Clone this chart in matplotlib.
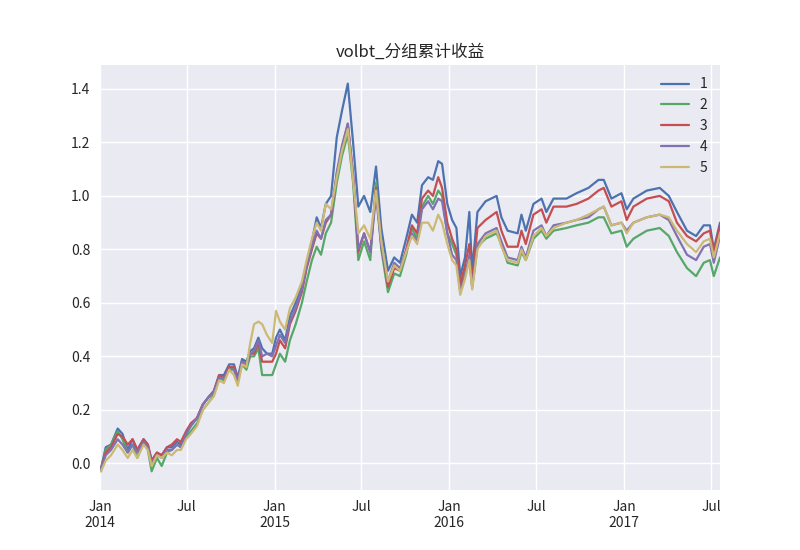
import matplotlib
matplotlib.use("Agg")
import matplotlib.pyplot as plt
import pandas as pd

dates = ["2014-01-03","2014-01-13","2014-01-24","2014-02-07","2014-02-17","2014-02-28","2014-03-10","2014-03-20",
"2014-04-02","2014-04-11","2014-04-19","2014-04-30","2014-05-10","2014-05-21","2014-05-31","2014-06-11","2014-06-19",
"2014-06-30","2014-07-10","2014-07-23","2014-08-04","2014-08-17","2014-08-27","2014-09-07","2014-09-17","2014-09-28",
"2014-10-08","2014-10-16","2014-10-25","2014-11-03","2014-11-11","2014-11-19","2014-11-28","2014-12-06","2014-12-16",
"2014-12-27","2015-01-04","2015-01-12","2015-01-23","2015-02-02","2015-02-14","2015-02-27","2015-03-09","2015-03-20",
"2015-03-30","2015-04-08","2015-04-18","2015-04-29","2015-05-11","2015-05-22","2015-06-03","2015-06-14","2015-06-25",
"2015-07-07","2015-07-20","2015-08-01","2015-08-12","2015-08-26","2015-09-08","2015-09-20","2015-10-03","2015-10-15",
"2015-10-26","2015-11-05","2015-11-18","2015-11-28","2015-12-09","2015-12-17","2015-12-28","2016-01-07","2016-01-16",
"2016-01-24","2016-02-03","2016-02-12","2016-02-18","2016-02-29","2016-03-17","2016-04-09","2016-04-19","2016-05-02",
"2016-05-23","2016-05-31","2016-06-09","2016-06-25","2016-07-12","2016-07-22","2016-08-06","2016-09-02","2016-09-23",
"2016-10-18","2016-11-08","2016-11-19","2016-12-05","2016-12-26","2017-01-06","2017-01-20","2017-02-17","2017-03-16",
"2017-04-04","2017-04-21","2017-05-12","2017-05-31","2017-06-16","2017-06-29","2017-07-07","2017-07-20"]

rows = [
(-0.02,-0.03,-0.02,-0.02,-0.03),(0.06,0.05,0.04,0.03,0.01),(0.07,0.07,0.06,0.05,0.03),(0.13,0.12,0.11,0.09,0.07),
(0.11,0.09,0.10,0.07,0.05),(0.05,0.04,0.07,0.04,0.02),(0.09,0.07,0.09,0.07,0.05),(0.05,0.02,0.05,0.04,0.02),
(0.09,0.08,0.09,0.08,0.07),(0.07,0.05,0.07,0.06,0.05),(0.01,-0.03,0.01,0.00,-0.01),(0.04,0.02,0.04,0.03,0.03),
(0.03,-0.01,0.03,0.02,0.02),(0.06,0.04,0.06,0.05,0.04),(0.06,0.05,0.07,0.05,0.03),(0.08,0.07,0.09,0.07,0.05),
(0.07,0.06,0.08,0.06,0.05),(0.11,0.10,0.12,0.11,0.09),(0.14,0.12,0.15,0.14,0.11),(0.17,0.15,0.17,0.17,0.14),
(0.22,0.20,0.22,0.22,0.20),(0.25,0.23,0.25,0.25,0.23),(0.27,0.26,0.27,0.27,0.25),(0.33,0.32,0.33,0.32,0.31),
(0.33,0.31,0.32,0.32,0.30),(0.37,0.36,0.36,0.35,0.35),(0.37,0.35,0.36,0.35,0.33),(0.32,0.31,0.31,0.31,0.29),
(0.39,0.37,0.38,0.38,0.37),(0.38,0.35,0.37,0.37,0.36),(0.42,0.40,0.41,0.41,0.45),(0.43,0.40,0.41,0.42,0.52),
(0.47,0.43,0.45,0.46,0.53),(0.43,0.33,0.38,0.40,0.52),(0.41,0.33,0.38,0.41,0.48),(0.41,0.33,0.38,0.40,0.45),
(0.47,0.37,0.41,0.44,0.57),(0.50,0.41,0.46,0.48,0.53),(0.46,0.38,0.43,0.45,0.50),(0.55,0.46,0.52,0.53,0.58),
(0.60,0.52,0.57,0.58,0.62),(0.66,0.60,0.64,0.65,0.68),(0.74,0.68,0.73,0.74,0.76),(0.83,0.76,0.80,0.81,0.84),
(0.92,0.81,0.86,0.87,0.90),(0.88,0.78,0.84,0.84,0.87),(0.97,0.86,0.90,0.91,0.97),(1.00,0.90,0.93,0.93,0.95),
(1.22,1.05,1.08,1.09,1.07),(1.32,1.15,1.18,1.19,1.17),(1.42,1.23,1.27,1.27,1.25),(1.20,1.05,1.08,1.08,1.06),
(0.96,0.76,0.79,0.80,0.86),(1.00,0.83,0.86,0.86,0.89),(0.94,0.76,0.79,0.79,0.84),(1.11,1.05,1.03,1.00,1.02),
(0.88,0.80,0.82,0.81,0.83),(0.72,0.64,0.66,0.68,0.68),(0.77,0.71,0.73,0.75,0.74),(0.75,0.70,0.72,0.73,0.72),
(0.84,0.78,0.80,0.79,0.79),(0.93,0.88,0.89,0.86,0.85),(0.90,0.84,0.86,0.83,0.82),(1.04,0.96,0.99,0.95,0.90),
(1.07,1.00,1.02,0.98,0.90),(1.06,0.97,1.00,0.95,0.87),(1.13,1.02,1.07,0.99,0.93),(1.12,1.00,1.03,0.98,0.90),
(0.97,0.86,0.90,0.86,0.82),(0.91,0.82,0.84,0.78,0.76),(0.88,0.78,0.80,0.76,0.74),(0.70,0.66,0.67,0.64,0.63),
(0.77,0.72,0.74,0.70,0.69),(0.94,0.76,0.82,0.78,0.76),(0.72,0.66,0.68,0.66,0.65),(0.94,0.81,0.88,0.82,0.80),
(0.98,0.84,0.91,0.86,0.85),(1.00,0.86,0.94,0.88,0.87),(0.92,0.82,0.87,0.83,0.81),(0.87,0.75,0.81,0.77,0.76),
(0.86,0.74,0.81,0.76,0.75),(0.93,0.79,0.87,0.81,0.80),(0.87,0.76,0.82,0.77,0.76),(0.97,0.84,0.93,0.87,0.85),
(0.99,0.87,0.95,0.89,0.88),(0.94,0.84,0.90,0.85,0.85),(0.99,0.87,0.96,0.89,0.88),(0.99,0.88,0.96,0.90,0.90),
(1.01,0.89,0.97,0.91,0.91),(1.03,0.90,0.99,0.92,0.93),(1.06,0.92,1.02,0.95,0.95),(1.06,0.92,1.03,0.96,0.96),
(0.99,0.86,0.96,0.89,0.89),(1.01,0.87,0.98,0.90,0.90),(0.95,0.81,0.91,0.87,0.86),(0.99,0.84,0.96,0.90,0.90),
(1.02,0.87,0.99,0.92,0.92),(1.03,0.88,1.00,0.93,0.93),(1.00,0.85,0.98,0.91,0.92),(0.94,0.79,0.90,0.85,0.87),
(0.87,0.73,0.85,0.78,0.82),(0.85,0.70,0.83,0.76,0.79),(0.89,0.75,0.86,0.81,0.83),(0.89,0.76,0.87,0.82,0.84),
(0.80,0.70,0.79,0.75,0.77),(0.90,0.77,0.89,0.85,0.86)]
labels = ["1","2","3","4","5"]
series = {lab: [r[i] for r in rows] for i, lab in enumerate(labels)}
tick_dates = ["2014-01-01","2014-07-01","2015-01-01","2015-07-01","2016-01-01","2016-07-01","2017-01-01","2017-07-01"]
tick_labels = ["Jan\n2014","Jul","Jan\n2015","Jul","Jan\n2016","Jul","Jan\n2017","Jul"]

plt.style.use("seaborn-v0_8")
plt.rcParams['font.family'] = ['Noto Sans CJK SC', 'DejaVu Sans']
plt.rcParams['axes.unicode_minus'] = False
colors = ["#4c72b0", "#55a868", "#c44e52", "#8172b2", "#ccb974"]
fig, ax = plt.subplots(figsize=(8, 5.5), dpi=100)
fig.subplots_adjust(left=0.125, right=0.9, top=0.882, bottom=0.109)
x = pd.to_datetime(dates)
for lab, c in zip(labels, colors):
    ax.plot(x, series[lab], color=c, lw=1.6, label=lab)
ax.set_xlim(pd.Timestamp("2014-01-01"), x[-1])
ax.set_ylim(-0.1, 1.49)
ax.set_xticks(pd.to_datetime(tick_dates))
ax.set_xticklabels(tick_labels)
ax.set_yticks([0.0,0.2,0.4,0.6,0.8,1.0,1.2,1.4])
ax.set_title("volbt_分组累计收益")
ax.legend(loc="upper right", frameon=False)
fig.savefig("out.png", dpi=100)
